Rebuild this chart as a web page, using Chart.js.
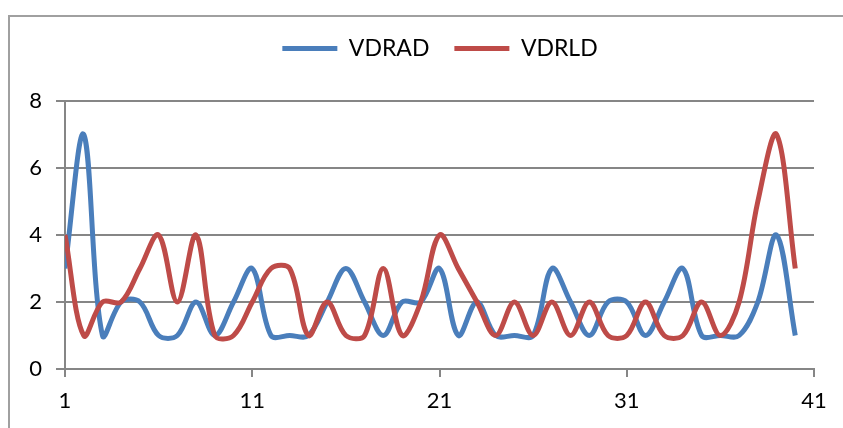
<!DOCTYPE html>
<html>
<head>
<meta charset="utf-8">
<script src="https://cdn.jsdelivr.net/npm/chart.js@4/dist/chart.umd.min.js"></script>
<style>
  html, body { margin: 0; padding: 0; background: #fff; }
  #wrap { width: 843px; height: 428px; }
</style>
</head>
<body>
<div id="wrap"><canvas id="c" width="843" height="428"></canvas></div>
<script>
const categories = [1,2,3,4,5,6,7,8,9,10,11,12,13,14,15,16,17,18,19,20,21,22,23,24,25,26,27,28,29,30,31,32,33,34,35,36,37,38,39,40];
const vdrad = [3,7,1,2,2,1,1,2,1,2,3,1,1,1,2,3,2,1,2,2,3,1,2,1,1,1,3,2,1,2,2,1,2,3,1,1,1,2,4,1];
const vdrld = [4,1,2,2,3,4,2,4,1,1,2,3,3,1,2,1,1,3,1,2,4,3,2,1,2,1,2,1,2,1,1,2,1,1,2,1,2,5,7,3];
const xTicks = [1,11,21,31,41];
const yTicks = [0,2,4,6,8];
const seriesNames = ['VDRAD','VDRLD'];

const GRID = '#868686';
const FONT = 'Lato, "Open Sans", sans-serif';

const toPoints = (vals) => vals.map((v, i) => ({ x: categories[i], y: v }));

const framePlugin = {
  id: 'frame',
  beforeDraw(chart) {
    const ctx = chart.ctx;
    ctx.save();
    ctx.fillStyle = '#fff';
    ctx.fillRect(0, 0, chart.width, chart.height);
    ctx.strokeStyle = '#A0A0A0';
    ctx.lineWidth = 2;
    ctx.strokeRect(9, 16, chart.width + 50, chart.height + 50);
    ctx.restore();
  }
};

const legendSpacer = {
  id: 'legendSpacer',
  beforeInit(chart) {
    const fit = chart.legend.fit;
    chart.legend.fit = function () {
      fit.call(this);
      this.height += 31;
    };
  },
  afterLayout(chart) {
    chart.legend.left += 33;
    chart.legend.right += 33;
  }
};

new Chart(document.getElementById('c'), {
  type: 'line',
  data: {
    datasets: [
      { label: seriesNames[0], data: toPoints(vdrad), order: 1, borderColor: '#4A7EBB', backgroundColor: '#4A7EBB', borderWidth: 5, pointRadius: 0, tension: 0.35, fill: false },
      { label: seriesNames[1], data: toPoints(vdrld), order: 0, borderColor: '#BE4B48', backgroundColor: '#BE4B48', borderWidth: 5, pointRadius: 0, tension: 0.35, fill: false }
    ]
  },
  options: {
    responsive: false,
    animation: false,
    layout: { padding: { top: 12, right: 29, bottom: 0, left: 0 } },
    plugins: {
      tooltip: { enabled: false },
      legend: {
        position: 'top',
        align: 'center',
        labels: {
          usePointStyle: true,
          pointStyle: 'line',
          pointStyleWidth: 55,
          padding: 25,
          color: '#000',
          font: { family: FONT, size: 23 },
          sort: (a, b) => a.datasetIndex - b.datasetIndex
        }
      }
    },
    scales: {
      x: {
        type: 'linear',
        min: 1,
        max: 41,
        afterFit(s) { s.height = 59; },
        afterBuildTicks(s) { s.ticks = xTicks.map(v => ({ value: v })); },
        ticks: { color: '#000', padding: 11, font: { family: FONT, size: 22 }, maxRotation: 0 },
        grid: { display: true, drawOnChartArea: false, drawTicks: true, tickLength: 8, color: GRID, lineWidth: 2 },
        border: { display: true, color: GRID, width: 2 }
      },
      y: {
        min: 0,
        max: 8,
        afterFit(s) { s.width = 65; },
        afterBuildTicks(s) { s.ticks = yTicks.map(v => ({ value: v })); },
        ticks: { color: '#000', padding: 14, font: { family: FONT, size: 22 } },
        grid: { color: GRID, lineWidth: 2, tickLength: 9 },
        border: { display: true, color: GRID, width: 2 }
      }
    }
  },
  plugins: [framePlugin, legendSpacer]
});
</script>
</body>
</html>
